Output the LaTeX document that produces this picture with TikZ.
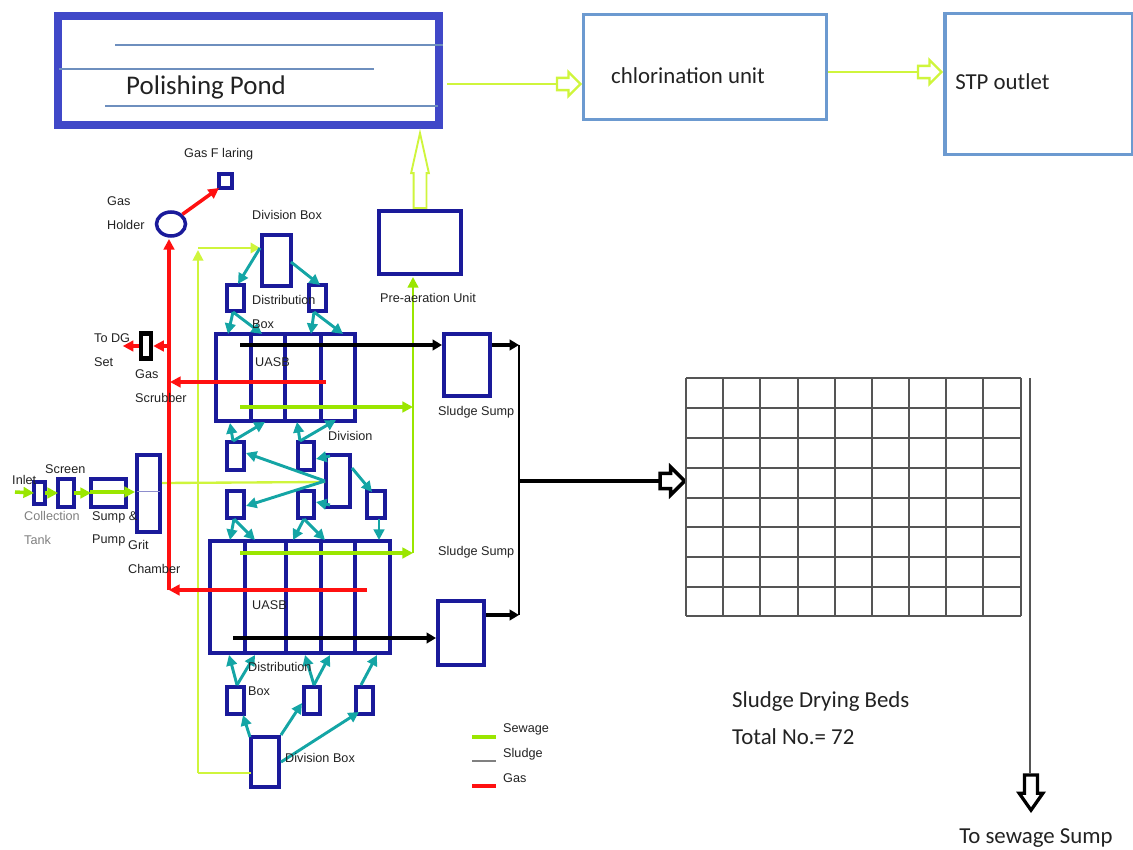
\documentclass[tikz,border=0pt]{standalone}
\usepackage{fontspec}
\setmainfont{Carlito}
\newfontfamily\smallfont{Liberation Sans}
\usepackage{xcolor}
\usetikzlibrary{positioning, arrows.meta, shapes.geometric, shapes.arrows, calc}
\definecolor{unit}{HTML}{1A1A9A}
\definecolor{pond}{HTML}{4048C8}
\definecolor{stage}{HTML}{6C9AD0}
\definecolor{hair}{HTML}{6E8FBE}
\definecolor{sewage}{HTML}{9AE600}
\definecolor{palegreen}{HTML}{CFF53C}
\definecolor{teal}{HTML}{14A5A5}
\definecolor{gas}{HTML}{FF1010}
\definecolor{bedline}{HTML}{555555}
\definecolor{ink}{HTML}{222222}
\tikzset{
  unitbox/.style={draw=unit, line width=3.8pt, inner sep=0pt, outer sep=0pt},
  sewline/.style={sewage, line width=3pt, -{Triangle[length=9pt,width=9pt]}},
  thingreen/.style={palegreen, line width=1.6pt},
  sludgeline/.style={black, line width=3pt, -{Triangle[length=8pt,width=9pt]}},
  gasline/.style={gas, line width=3pt, -{Triangle[length=9pt,width=9pt]}},
  tealline/.style={teal, line width=2.5pt, -{Triangle[length=9pt,width=9pt]}},
  tag/.style={anchor=west, inner sep=0pt, align=left, text=ink, font=\smallfont\fontsize{10.8}{20}\selectfont},
  bigtag/.style={anchor=west, inner sep=0pt, align=left, text=ink, font=\fontsize{19.5}{32}\selectfont},
  hollow/.style={single arrow, draw=#1, fill=white, anchor=tail, outer sep=0pt},
}
\begin{document}
\begin{tikzpicture}[x=0.03cm, y=-0.03cm]
  \def\px{0.03}
  \useasboundingbox (0,0) rectangle (1133,850);
  % top row
  \node[draw=pond, line width=6.8pt, inner sep=0pt, minimum width=381*\px cm, minimum height=109*\px cm] (pond) at (248.5,70.5) {};
  \node[draw=stage, line width=3pt, inner sep=0pt, minimum width=243*\px cm, minimum height=105*\px cm] (chlor) at (705,67) {};
  \node[draw=stage, line width=3pt, inner sep=0pt, minimum width=188*\px cm, minimum height=141*\px cm] (outlet) at (1039,84) {};
  \draw[hair, line width=1pt] (115,45) -- (443,45);
  \draw[hair, line width=1pt] (59,69) -- (374,69);
  \draw[hair, line width=1pt] (105,106) -- (438,106);
  % plant units, given by their corners
  \foreach \name/\xa/\ya/\xb/\yb in {
      flare/219/174/232/188, divtop/262/235/291/286, distL/227/285/244/311, distR/309/285/326/311,
      uasbA/216/334/355/421, preair/379/211/461/274, sumpA/444/334/490/396,
      grit/137/455/160/532, inlet/34/482/45/504, screen/58/479/74/507, sump/91/479/126/507,
      midA/227/442/244/470, midB/298/442/314/470, divmid/326/455/350/507,
      midC/227/491/244/518, midD/298/491/314/518, midE/367/491/385/518,
      uasbB/210/541/390/653, distX/227/687/244/714, distY/304/687/320/714, distZ/356/687/373/714,
      divlow/251/737/279/787, sumpB/438/601/484/665
  } {
    \pgfmathsetmacro{\ww}{(\xb-\xa)*\px}
    \pgfmathsetmacro{\hh}{(\yb-\ya)*\px}
    \node[unitbox, minimum width=\ww cm, minimum height=\hh cm] (\name) at ({(\xa+\xb)/2},{(\ya+\yb)/2}) {};
  }
  \node[draw=unit, line width=3pt, ellipse, inner sep=0pt, minimum width=29*\px cm, minimum height=24*\px cm] (holder) at (171,224) {};
  \node[draw=black, line width=3.8pt, inner sep=0pt, minimum width=10*\px cm, minimum height=25*\px cm] (scrub) at (146,346) {};
  \foreach \x in {251,285,321} \draw[unit, line width=3.8pt] (\x,334) -- (\x,421);
  \foreach \x in {245,286,321,355} \draw[unit, line width=3.8pt] (\x,541) -- (\x,653);
  \draw[unit!50, line width=0.8pt] (137,491) -- (160,491);
  % free ends
  \foreach \name/\x/\y in {
      feed/15/492, sumpIn/90/492, gritIn/135/492, gritOut/162/483, divIn/325/482,
      pipeA/198/773, pipeB/198/250, pipeC/198/248, pipeD/260/248,
      blackA/240/345, blackB/233/638, sumpAin/442/345, sumpBin/436/638,
      sumpAout/492/345, sumpBout/486/615, mainA/519/345, mainB/519/615, mainC/519/481,
      mainD/660/481, redA/326/382, redB/170/382, redC/367/590, redD/169/590, redE/169/346, redF/169/239,
      greenA/240/407, greenB/413/407, greenC/240/553, greenD/413/553, greenE/413/277,
      pondOut/447/84, chlorOut/828/72, bedDrop/1030/378, bedEnd/1030/774
  } {
    \coordinate (\name) at (\x,\y);
  }
  % thin sewage feed
  \draw[thingreen] (divlow.west |- pipeA) -- (pipeA);
  \draw[thingreen, -{Triangle[length=9pt,width=9pt]}] (pipeA) -- (pipeB);
  \draw[thingreen, -{Triangle[length=8pt,width=9pt]}] (pipeC) -- (pipeD);
  \draw[thingreen, line width=2pt] (gritOut) -- (divIn);
  % sewage
  \draw[sewline] (feed) -- (inlet.west);
  \draw[sewline] (inlet.east) -- (screen.west);
  \draw[sewline] (screen.east) -- (sump.west);
  \draw[sewline] (sumpIn) -- (gritIn);
  \draw[sewage, line width=2pt, -{Triangle[length=9pt,width=9pt]}] (greenD) -- (greenE);
  \draw[sewline] (greenA) -- (greenB);
  \draw[sewline] (greenC) -- (greenD);
  % gas
  \draw[gasline] (redD) -- (redF);
  \draw[gasline] (redC) -- (redD);
  \draw[gasline] (redA) -- (redB);
  \draw[gasline] (redE) -- (scrub.east);
  \draw[gasline] (scrub.west) -- ++(-16,0);
  \draw[gasline] (holder.north east) -- (flare.south west);
  % digester and box links
  \foreach \name/\x/\y in {
      a1/260/248, a2/238/284, a3/291/262, a4/320/285, a5/233/312, a6/228/334, a7/262/334,
      a8/314/312, a9/311/334, a10/343/334, b1/233/441, b2/230/423, b3/265/422, b4/300/441,
      b5/297/422, b6/336/420, c1/325/481, c2/246/453, c3/246/506, c4/330/456, c5/316/459,
      c6/330/505, c7/316/502, c8/352/468, c9/372/492, d1/234/519, d2/230/540, d3/255/540,
      d4/304/519, d5/293/540, d6/325/540, d7/379/519, d8/379/540, e1/237/685, e2/229/655,
      e3/255/655, e4/314/685, e5/305/655, e6/330/655, e7/361/685, e8/377/655, f1/250/737,
      f2/243/715, f3/281/735, f4/302/703, f5/281/762, f6/359/712
  } {
    \coordinate (\name) at (\x,\y);
  }
  \foreach \s/\e in {
      a1/a2, a3/a4, a5/a6, a5/a7, a8/a9, a8/a10, b1/b2, b1/b3, b4/b5, b4/b6,
      c1/c2, c1/c3, c4/c5, c6/c7, c8/c9, d1/d2, d1/d3, d4/d5, d4/d6, d7/d8,
      e1/e2, e1/e3, e4/e5, e4/e6, e7/e8, f1/f2, f3/f4, f5/f6%
  } {
    \draw[tealline] (\s) -- (\e);
  }
  % sludge
  \draw[sludgeline] (blackA) -- (sumpAin);
  \draw[sludgeline] (blackB) -- (sumpBin);
  \draw[sludgeline] (sumpAout) -- (mainA);
  \draw[sludgeline] (sumpBout) -- (mainB);
  \draw[black, line width=2.4pt] (mainA) -- (mainB);
  \node[hollow=black, line width=3pt, minimum height=21pt, inner sep=5pt, single arrow head extend=5.4pt] (bedArrow) at (mainD) {};
  \draw[black, line width=3.6pt] (mainC) -- (bedArrow.tail);
  % hollow arrows
  \node[hollow=palegreen, line width=2pt, minimum height=20pt, inner sep=4.2pt, single arrow head extend=5pt] (arrowA) at (557,84) {};
  \node[hollow=palegreen, line width=2pt, minimum height=20pt, inner sep=4.2pt, single arrow head extend=5pt] (arrowB) at (918,72) {};
  \node[hollow=palegreen, line width=1.6pt, rotate=90, minimum height=64pt, inner sep=4.7pt, single arrow head extend=2.1pt, single arrow tip angle=25] (arrowC) at (420,208) {};
  \draw[palegreen, line width=2pt] (pondOut) -- (arrowA.tail);
  \draw[palegreen, line width=2pt] (chlorOut) -- (arrowB.tail);
  % beds
  \foreach \x in {686,723,760,798,835,872,909,946,983,1021} \draw[bedline, line width=0.9pt] (\x,378) -- (\x,616);
  \foreach \y in {378,408,438,468,498,527,557,587,616} \draw[bedline, line width=0.9pt] (686,\y) -- (1021,\y);
  \node[hollow=black, line width=2.8pt, rotate=-90, minimum height=30pt, inner sep=4.2pt, single arrow head extend=4.5pt, single arrow tip angle=70] (sewArrow) at (1031,775) {};
  \draw[bedline, line width=2pt] (bedDrop) -- (bedEnd);
  % legend
  \foreach \y/\col/\wd in {737/sewage/3pt, 761/gray/1.4pt, 786/gas/3pt} \draw[\col, line width=\wd] (472,\y) -- (496,\y);
  % labels
  \node[bigtag, font=\fontsize{23}{28}\selectfont] (pondTag) at (126,87) {Polishing Pond};
  \node[bigtag] (chlorTag) at (611,76) {chlorination unit};
  \node[bigtag] (outletTag) at (955,82) {STP outlet};
  \node[bigtag] (bedTag) at (732,718) {Sludge Drying Beds\\Total No.= 72};
  \node[bigtag] (sewTag) at (959,838) {To sewage Sump};
  \foreach \x/\y/\txt [count=\i] in {
      184/154/Gas F laring, 107/213/{Gas\\Holder}, 252/215/Division Box, 252/312/{Distribution\\Box},
      94/350/{To DG\\Set}, 135/386/{Gas\\Scrubber}, 255/362/UASB, 380/298/Pre-aeration Unit,
      438/412/Sludge Sump, 328/436/Division, 12/480/Inlet, 45/469/Screen,
      92/529/{Sump \&\\Pump}, 128/557/{Grit\\Chamber}, 438/552/Sludge Sump, 252/605/UASB,
      248/679/{Distribution\\Box}, 285/758/Division Box, 503/729/Sewage, 503/754/Sludge, 503/778/Gas%
  } {
    \node[tag] (tag\i) at (\x,\y) {\txt};
  }
  \node[tag, text=gray] (tankTag) at (24,528) {Collection\\Tank};
\end{tikzpicture}
\end{document}
